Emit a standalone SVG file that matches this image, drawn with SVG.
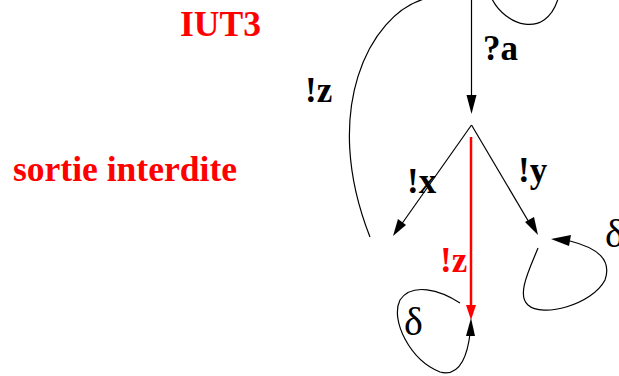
<svg xmlns="http://www.w3.org/2000/svg" width="619" height="376" viewBox="0 0 619 376">
<style>
.e{fill:none;stroke:#000;stroke-width:1.2}
.r{fill:none;stroke:#ff0000;stroke-width:2.5}
.h{fill:#000;stroke:none}
.hr{fill:#ff0000;stroke:none}
.t{font-family:"Liberation Serif","Times New Roman",serif;font-weight:bold;font-size:35px;fill:#000}
.tr{font-family:"Liberation Serif","Times New Roman",serif;font-weight:bold;font-size:35px;fill:#ff0000}
.d{font-family:"Liberation Serif","Times New Roman",serif;font-size:40px;fill:#000}
</style>
<rect width="619" height="376" fill="#fff"/>
<g id="titles">
<text class="tr" x="180" y="36" font-size="36" textLength="81" lengthAdjust="spacingAndGlyphs">IUT3</text>
<text class="tr" x="13" y="181" font-size="36" textLength="224" lengthAdjust="spacingAndGlyphs">sortie interdite</text>
</g>
<g id="connectors">
<path class="e" d="M471.5 0 L471.5 96"/>
<polygon class="h" points="466.5,95 476.5,95 471.5,114"/>
<path class="e" d="M492 -1 C505 25,545 40,558 -1"/>
<path class="e" d="M424 -1 C370 15,320 110,370 237"/>
<path class="e" d="M471.5 125 L401 225"/>
<polygon class="h" points="393,236 398,219 406,225"/>
<path class="e" d="M471.5 125 L530 224"/>
<polygon class="h" points="538,235 525,222 534,217"/>
<path class="r" d="M471 137 L471 305"/>
<polygon class="hr" points="466,305 476,305 471,320"/>
<path class="e" d="M460 303 C440 290,412 282,400 300 C390 320,410 360,440 372 C462 378,468 350,470 334"/>
<polygon class="h" points="466,336 475,336 471,318"/>
<path class="e" d="M538 248 C530 268,516 295,528 305 C542 318,592 305,605 280 C612 260,598 248,570 241"/>
<polygon class="h" points="551,239 571,235 569,246"/>
</g>
<g id="labels">
<text class="t" x="483" y="60">?a</text>
<text class="t" x="305" y="102">!z</text>
<text class="t" x="407" y="193">!x</text>
<text class="t" x="518" y="182">!y</text>
<text class="tr" x="440" y="272">!z</text>
<text class="d" x="404" y="335">δ</text>
<text class="d" x="605" y="247">δ</text>
</g>
</svg>
